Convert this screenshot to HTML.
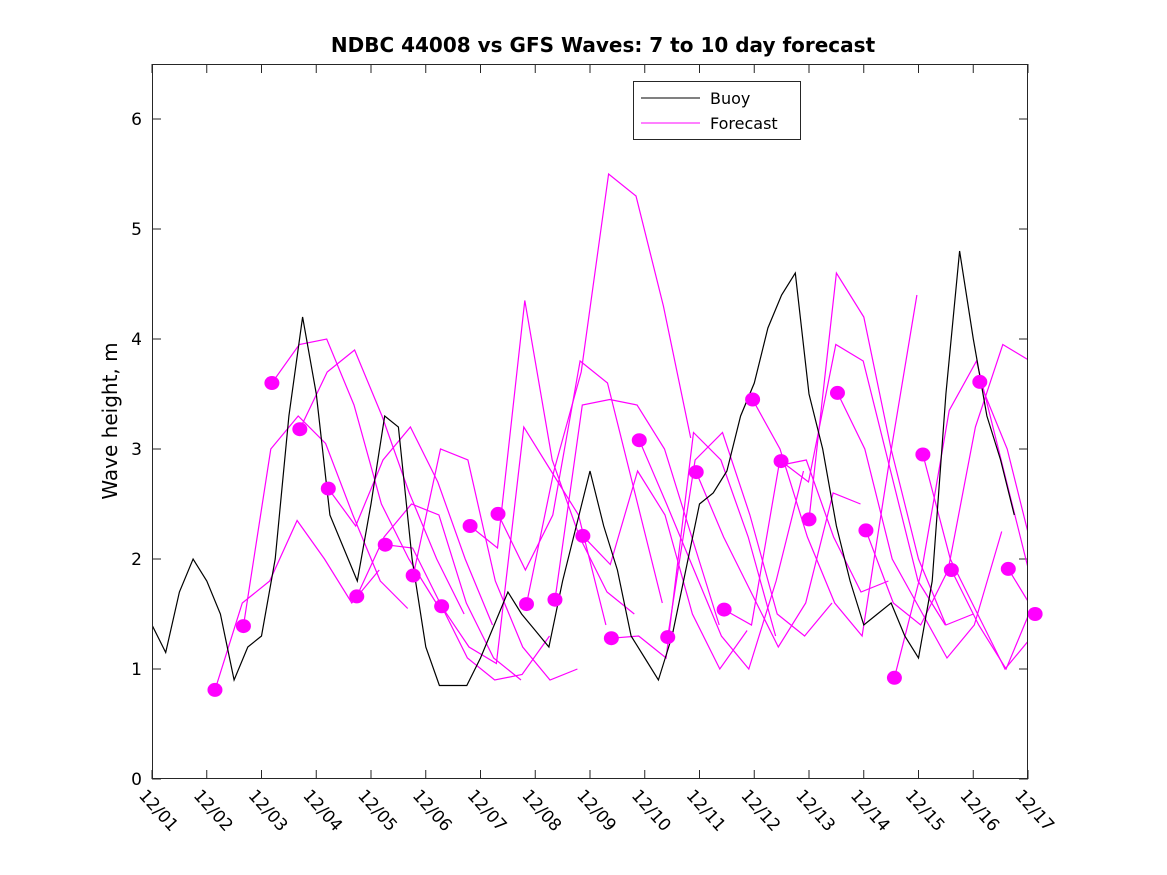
<!DOCTYPE html>
<html><head><meta charset="utf-8">
<style>
body{margin:0;background:#fff;}
svg{display:block;font-family:"DejaVu Sans","Liberation Sans",sans-serif;}
</style></head>
<body>
<svg id="chart" width="1167" height="875" viewBox="0 0 1167 875" xmlns="http://www.w3.org/2000/svg">
<rect width="1167" height="875" fill="#fff"/>
<defs><clipPath id="clip"><rect x="152" y="64" width="876" height="715"/></clipPath></defs>
<text x="603" y="52" text-anchor="middle" font-size="20" font-weight="bold">NDBC 44008 vs GFS Waves: 7 to 10 day forecast</text>
<text transform="translate(117,421) rotate(-90)" text-anchor="middle" font-size="20">Wave height, m</text>
<g id="ticks"></g>
<g id="series" clip-path="url(#clip)"></g>
<g id="markers"></g>
<rect x="152.5" y="64.5" width="875" height="714" fill="none" stroke="#262626" stroke-width="1"/>
<g>
<rect x="633.5" y="81.5" width="167" height="58" fill="#fff" stroke="#262626"/>
<line x1="641" y1="98" x2="700" y2="98" stroke="#000"/>
<text x="710" y="104" font-size="16">Buoy</text>
<line x1="641" y1="123" x2="700" y2="123" stroke="#ff00ff"/>
<text x="710" y="129" font-size="16">Forecast</text>
</g>
</svg>
<script>
const xTickLabels=["12/01","12/02","12/03","12/04","12/05","12/06","12/07","12/08","12/09","12/10","12/11","12/12","12/13","12/14","12/15","12/16","12/17"];
const yTicks=[0,1,2,3,4,5,6];
const buoyStep=0.25;
const buoyValues=[1.4,1.15,1.7,2.0,1.8,1.5,0.9,1.2,1.3,2.0,3.3,4.2,3.5,2.4,2.1,1.8,2.5,3.3,3.2,2.0,1.2,0.85,0.85,0.85,1.1,1.4,1.7,1.5,1.35,1.2,1.8,2.3,2.8,2.3,1.9,1.3,1.1,0.9,1.3,1.9,2.5,2.6,2.8,3.3,3.6,4.1,4.4,4.6,3.5,3.0,2.3,1.8,1.4,1.5,1.6,1.3,1.1,1.8,3.5,4.8,4.0,3.3,2.9,2.4];
const fcStartDays=[1.15,1.67,2.19,2.7,3.22,3.74,4.26,4.77,5.29,5.81,6.32,6.84,7.36,7.87,8.39,8.9,9.42,9.94,10.45,10.97,11.49,12.0,12.52,13.04,13.56,14.08,14.6,15.12,15.64,16.13];
const fcStep=0.5;
const fcValues=[
[0.81,1.6,1.8,2.35,2.0,1.6,1.9],
[1.39,3.0,3.3,3.05,2.4,1.8,1.55],
[3.6,3.95,4.0,3.4,2.5,2.0,1.6],
[3.18,3.7,3.9,3.3,2.6,2.0,1.5],
[2.64,2.3,2.9,3.2,2.7,2.0,1.4],
[1.66,2.2,2.5,2.4,1.6,1.1,0.9],
[2.13,2.1,1.6,1.1,0.9,0.95,1.3],
[1.85,3.0,2.9,1.8,1.2,0.9,1.0],
[1.57,1.2,1.05,3.2,2.8,2.4,1.4],
[2.3,2.1,4.35,2.9,2.2,1.7,1.5],
[2.41,1.9,2.4,3.8,3.6,2.6,1.6],
[1.59,2.8,3.7,5.5,5.3,4.3,3.1],
[1.63,3.4,3.45,3.4,3.0,2.2,1.4],
[2.21,1.95,2.8,2.4,1.5,1.0,1.35],
[1.28,1.3,1.1,3.15,2.9,2.2,1.3],
[3.08,2.5,1.9,1.3,1.0,1.8,2.8],
[1.29,2.9,3.15,2.4,1.5,1.3,1.6],
[2.79,2.2,1.7,1.2,1.6,2.6,2.5],
[1.54,1.4,2.85,2.9,2.2,1.7,1.8],
[3.45,3.0,2.2,1.6,1.3,2.9,4.4],
[2.89,2.7,3.95,3.8,2.8,1.8,1.4],
[2.36,4.6,4.2,3.0,2.0,1.4,1.5],
[3.51,3.0,2.0,1.55,1.1,1.4,2.25],
[2.26,1.6,1.4,1.9,3.2,3.95,3.8],
[0.92,1.9,3.35,3.8,2.8,1.8,1.45],
[2.95,2.0,1.5,1.0,1.3,2.5,2.5],
[1.9,1.4,1.0,1.6,3.2,2.6,1.2],
[3.61,3.0,2.0,1.5,1.0,2.3,3.5],
[1.91,1.5,7.0,7.0,7.0,7.0,7.0],
[1.5,1.3,1.2,1.2,1.2,1.2,1.2]
];
const NS="http://www.w3.org/2000/svg";
const X0=152,X1=1028,Y0=779,Y1=64,DMAX=16,VMAX=6.5;
function xs(d){return X0+(X1-X0)*d/DMAX;}
function ys(v){return Y0-(Y0-Y1)*v/VMAX;}
const tg=document.getElementById('ticks');
xTickLabels.forEach((lab,i)=>{
  const x=xs(i);
  const t=document.createElementNS(NS,'path');
  t.setAttribute('d',`M${x} ${Y0}v-9M${x} ${Y1}v9`);
  t.setAttribute('stroke','#262626');
  
  
  tg.appendChild(t);
  const tx=document.createElementNS(NS,'text');
  tx.setAttribute('transform',`translate(${x-14},${Y0+17}) rotate(48)`);
  tx.setAttribute('font-size','17');
  tx.textContent=lab;
  
  
  tg.appendChild(tx);
});
yTicks.forEach(v=>{
  const y=ys(v);
  const t=document.createElementNS(NS,'path');
  t.setAttribute('d',`M${X0} ${y}h9M${X1} ${y}h-9`);
  t.setAttribute('stroke','#262626');
  
  
  tg.appendChild(t);
  const tx=document.createElementNS(NS,'text');
  tx.setAttribute('x',X0-10);tx.setAttribute('y',y+6);
  tx.setAttribute('text-anchor','end');tx.setAttribute('font-size','17');
  tx.textContent=v;
  
  
  tg.appendChild(tx);
});
const sg=document.getElementById('series');
const mg=document.getElementById('markers');
fcValues.forEach((vals,i)=>{
  const d0=fcStartDays[i];
  const pts=vals.map((v,j)=>xs(d0+j*fcStep).toFixed(1)+','+ys(v).toFixed(1)).join(' ');
  const pl=document.createElementNS(NS,'polyline');
  pl.setAttribute('points',pts);
  pl.setAttribute('fill','none');pl.setAttribute('stroke','#ff00ff');pl.setAttribute('stroke-width','1.2');
  
  
  sg.appendChild(pl);
  const c=document.createElementNS(NS,'ellipse');
  c.setAttribute('cx',xs(d0));c.setAttribute('cy',ys(vals[0]));
  c.setAttribute('rx',7.5);c.setAttribute('ry',7);c.setAttribute('fill','#ff00ff');
  
  
  mg.appendChild(c);
});
const bp=document.createElementNS(NS,'polyline');
bp.setAttribute('points',buoyValues.map((v,j)=>xs(j*buoyStep).toFixed(1)+','+ys(v).toFixed(1)).join(' '));
bp.setAttribute('fill','none');bp.setAttribute('stroke','#000');bp.setAttribute('stroke-width','1.2');


sg.appendChild(bp);
</script>
</body></html>
